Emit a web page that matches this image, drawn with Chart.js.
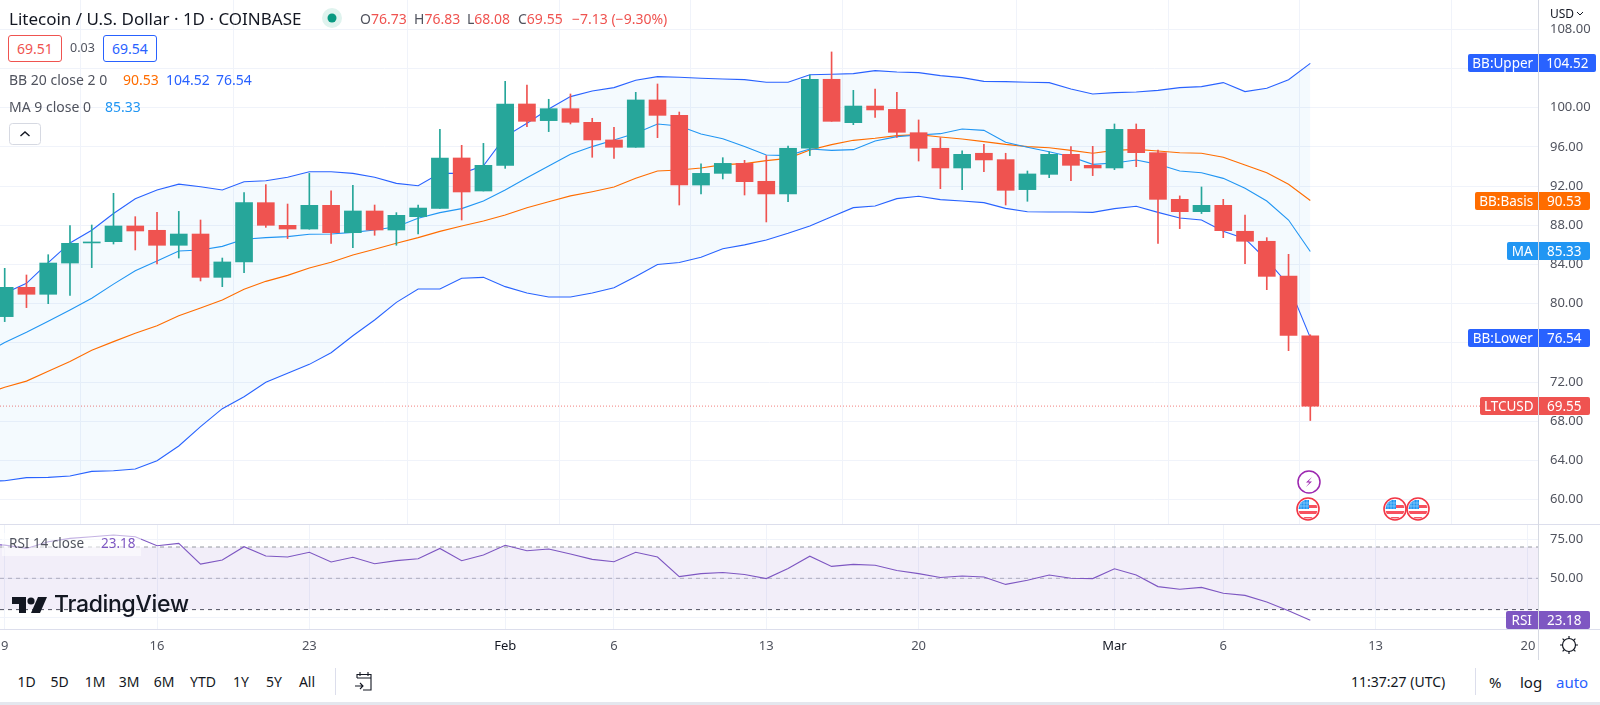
<!DOCTYPE html>
<html><head><meta charset="utf-8">
<script src="https://cdn.jsdelivr.net/npm/chart.js@4/dist/chart.umd.min.js"></script>
<style>
html,body{margin:0;padding:0;background:#fff;overflow:hidden;width:1600px;height:705px}
body{position:relative;font-family:"Noto Sans",sans-serif;color:#131722}
canvas{position:absolute;left:0}
.t{position:absolute;white-space:nowrap;transform:translateY(-50%);line-height:1;z-index:5}
.line{position:absolute;background:#dcdeec;z-index:4}
.box{position:absolute;box-sizing:border-box;border-radius:3px;border:1px solid;font-size:14px;display:flex;align-items:center;justify-content:center;z-index:5;background:#fff}
.badge{position:absolute;height:18px;line-height:18px;color:#fff;font-size:13.5px;z-index:6;border-radius:2px 0 0 2px;transform:translateY(-50%);text-align:center;white-space:nowrap}
svg{position:absolute;z-index:6;overflow:visible}
</style></head><body>
<canvas id="main" width="1600" height="524" style="top:0"></canvas>
<canvas id="osc" width="1600" height="136" style="top:524px"></canvas>

<div class="line" style="left:0;top:524px;width:1600px;height:1px"></div>
<div class="line" style="left:0;top:629px;width:1600px;height:1px"></div>
<div class="line" style="left:1538px;top:0;width:1px;height:660px;background:#d6d9e2"></div>
<div class="line" style="left:0;top:702px;width:1600px;height:3px;background:#e4e7ee"></div>

<span class="t" style="left:9px;top:18px;font-size:17px">Litecoin / U.S. Dollar · 1D · COINBASE</span>
<svg style="left:322px;top:8px" width="20" height="20"><circle cx="10" cy="10" r="10" fill="#dff3ee"/><circle cx="10" cy="10" r="4.5" fill="#089981"/></svg>
<span class="t" style="left:360px;top:19px;font-size:14px;color:#50535e">O<span style="color:#ef5350">76.73</span></span>
<span class="t" style="left:414px;top:19px;font-size:14px;color:#50535e">H<span style="color:#ef5350">76.83</span></span>
<span class="t" style="left:467px;top:19px;font-size:14px;color:#50535e">L<span style="color:#ef5350">68.08</span></span>
<span class="t" style="left:518px;top:19px;font-size:14px;color:#50535e">C<span style="color:#ef5350">69.55</span></span>
<span class="t" style="left:572px;top:19px;font-size:14px;color:#ef5350">−7.13 (−9.30%)</span>

<div class="box" style="left:8px;top:35px;width:54px;height:27px;border-color:#ef5350;color:#ef5350">69.51</div>
<span class="t" style="left:70px;top:48px;font-size:12.5px;color:#50535e">0.03</span>
<div class="box" style="left:103px;top:35px;width:54px;height:27px;border-color:#2962ff;color:#2962ff">69.54</div>

<span class="t" style="left:9px;top:80px;font-size:14px;color:#50535e">BB 20 close 2 0</span>
<span class="t" style="left:123px;top:80px;font-size:14px;color:#ff6d00">90.53</span>
<span class="t" style="left:166px;top:80px;font-size:14px;color:#2962ff">104.52</span>
<span class="t" style="left:216px;top:80px;font-size:14px;color:#2962ff">76.54</span>
<span class="t" style="left:9px;top:107px;font-size:14px;color:#50535e">MA 9 close 0</span>
<span class="t" style="left:105px;top:107px;font-size:14px;color:#2196f3">85.33</span>
<svg style="left:9px;top:123px" width="32" height="22"><rect x=".5" y=".5" width="31" height="21" rx="3" fill="#fff" stroke="#d6d9e2"/><path d="M11.5 13L16 9l4.5 4" fill="none" stroke="#131722" stroke-width="1.4"/></svg>

<span class="t" style="left:1550px;top:14px;font-size:12px">USD</span>
<svg style="left:1576px;top:11px" width="8" height="6"><path d="M1 1l3 3 3-3" fill="none" stroke="#131722"/></svg>

<div style="position:absolute;left:2px;top:533px;width:139px;height:23px;background:rgba(255,255,255,.55);z-index:4"></div>
<span class="t" style="left:9px;top:544px;font-size:13.5px;color:#50535e">RSI 14 close</span>
<span class="t" style="left:101px;top:544px;font-size:13.5px;color:#7e57c2">23.18</span>

<svg style="left:12px;top:596px" width="36" height="18"><path d="M0 1h14v16H7V8H0z" fill="#131722"/><circle cx="19" cy="5" r="3.6" fill="#131722"/><path d="M26 1h9l-7 16h-9z" fill="#131722"/></svg>
<span class="t" style="left:54px;top:604px;font-family:Inter;font-weight:500;font-size:23px;letter-spacing:-.3px;color:#131722">TradingView</span>

<svg style="left:1297px;top:470px" width="24" height="24"><circle cx="12" cy="12" r="11" fill="#fff" stroke="#9c27b0" stroke-width="1.5"/><path d="M15 7l-6 5.5h3.5l-3.5 4.5 6-5.500h-3.500z" fill="#9c27b0"/></svg>
<svg style="left:1296px;top:497px" width="24" height="24"><use href="#flag"/></svg>
<svg style="left:1383px;top:497px" width="24" height="24"><use href="#flag"/></svg>
<svg style="left:1405.500px;top:497px" width="24" height="24"><use href="#flag"/></svg>
<svg width="0" height="0" style="position:absolute"><defs><clipPath id="fc"><circle cx="12" cy="12" r="9.500"/></clipPath><g id="flag"><circle cx="12" cy="12" r="11" fill="#fff" stroke="#f23645" stroke-width="1.600"/><g clip-path="url(#fc)"><rect x="12" y="8" width="12" height="3" fill="#f7525f"/><rect y="14" width="24" height="3" fill="#f7525f"/><rect y="20" width="24" height="4" fill="#f7525f"/><rect x="2" y="3" width="11" height="9" fill="#2196f3"/><path d="M5 3v9M8 3v9M11 3v9M2 6h11M2 9h11" stroke="#bfe0fb" stroke-width=".5"/></g></g></defs></svg>

<svg style="left:1559px;top:635px" width="20" height="20"><circle cx="10" cy="10" r="6.5" fill="none" stroke="#131722" stroke-width="1.2"/><path d="M10 1v3M10 16v3M1 10h3M16 10h3M3.6 3.6l2 2M14.4 14.4l2 2M3.6 16.4l2-2M14.4 5.6l2-2" stroke="#131722" stroke-width="1.2"/></svg>

<span class="t tb" style="left:26.5px">1D</span><span class="t tb" style="left:59.5px">5D</span><span class="t tb" style="left:95px">1M</span><span class="t tb" style="left:129px">3M</span><span class="t tb" style="left:164px">6M</span><span class="t tb" style="left:203px">YTD</span><span class="t tb" style="left:241px">1Y</span><span class="t tb" style="left:274px">5Y</span><span class="t tb" style="left:307px">All</span>
<div class="line" style="left:335px;top:668px;width:1px;height:27px"></div>
<svg style="left:354px;top:671px" width="20" height="22"><path d="M3 7V3.5h14V19H9M3 7h14M6 1v4M14 1v4M1 15h8M6 12l3 3-3 3" fill="none" stroke="#131722" stroke-width="1.1"/></svg>
<span class="t" style="left:1351px;top:682px;font-size:14px">11:37:27 (UTC)</span>
<div class="line" style="left:1475px;top:668px;width:1px;height:27px"></div>
<span class="t" style="left:1489px;top:682px;font-size:15px">%</span>
<span class="t" style="left:1520px;top:682px;font-size:15px">log</span>
<span class="t" style="left:1556px;top:682px;font-size:15px;color:#2962ff">auto</span>
<style>.tb{top:682px;font-size:14px;transform:translate(-50%,-50%)}</style>

<script>
const dates = ["Jan 8","Jan 9","Jan 10","Jan 11","Jan 12","Jan 13","Jan 14","Jan 15","Jan 16","Jan 17","Jan 18","Jan 19","Jan 20","Jan 21","Jan 22","Jan 23","Jan 24","Jan 25","Jan 26","Jan 27","Jan 28","Jan 29","Jan 30","Jan 31",
"Feb 1","Feb 2","Feb 3","Feb 4","Feb 5","Feb 6","Feb 7","Feb 8","Feb 9","Feb 10","Feb 11","Feb 12","Feb 13","Feb 14","Feb 15","Feb 16","Feb 17","Feb 18","Feb 19","Feb 20","Feb 21","Feb 22","Feb 23","Feb 24","Feb 25","Feb 26","Feb 27","Feb 28",
"Mar 1","Mar 2","Mar 3","Mar 4","Mar 5","Mar 6","Mar 7","Mar 8","Mar 9","Mar 10","Mar 11","Mar 12","Mar 13","Mar 14","Mar 15","Mar 16","Mar 17","Mar 18","Mar 19","Mar 20"];
const tickDates = ["Jan 9","Jan 16","Jan 23","Feb 1","Feb 6","Feb 13","Feb 20","Mar 1","Mar 6","Mar 13","Mar 20"];
const tickLabels = ["9","16","23","Feb","6","13","20","Mar","6","13","20"];
const priceTicks = [60,64,68,72,76,80,84,88,92,96,100,104,108];
const rsiTicks = [25,50,75];

const opens = [null,78.68,81.67,80.96,84.15,86.20,86.33,87.93,87.49,85.96,87.11,
82.69,84.26,90.31,88.00,87.62,90.04,87.25,89.46,87.52,88.88,
89.73,94.87,91.50,94.12,100.38,98.68,99.90,98.51,96.71,95.96,
100.79,99.22,92.11,93.30,94.32,92.49,91.20,95.86,102.90,98.47,
100.17,99.83,97.45,95.86,93.85,95.35,94.70,91.64,93.20,95.24,
94.12,93.85,97.79,95.41,90.65,89.39,90.04,87.39,86.37,82.83,76.73];
const closes = [null,81.67,80.96,84.15,86.16,86.26,87.93,87.42,85.96,87.11,82.69,
84.26,90.31,88.00,87.62,90.04,87.25,89.46,87.52,89.02,89.76,
94.87,91.40,94.12,100.38,98.61,99.90,98.51,96.71,95.96,100.79,
99.22,92.11,93.30,94.32,92.45,91.20,95.86,102.90,98.61,100.17,
99.77,97.49,95.86,93.85,95.24,94.67,91.57,93.24,95.24,94.12,
93.85,97.79,95.41,90.65,89.39,90.04,87.45,86.37,82.79,76.77,69.55];
const highs = [null,83.61,82.93,85.00,87.96,88.03,91.26,88.88,89.32,89.42,88.54,
84.66,91.33,92.15,90.17,93.30,91.53,92.08,90.07,89.29,90.07,
97.79,96.16,96.36,102.69,102.32,100.86,101.40,98.92,98.00,101.57,
102.42,99.56,94.26,94.90,94.63,95.11,96.09,103.34,105.69,101.77,
101.91,101.57,98.75,96.94,95.60,96.26,95.35,93.54,95.50,96.03,
96.06,98.34,98.34,95.68,91.00,91.91,90.65,89.05,86.74,85.04,76.83];
const lows = [null,78.17,79.60,80.00,80.85,83.68,86.09,85.48,84.05,84.66,82.32,
81.74,83.17,87.79,86.64,87.60,86.16,85.72,86.98,85.96,87.11,
89.73,88.54,91.50,93.81,98.07,97.56,98.34,94.94,94.83,95.96,
96.94,90.07,91.20,92.73,91.09,88.34,90.40,95.11,98.61,98.27,
99.02,96.98,94.56,91.74,91.64,93.47,90.07,90.45,92.86,92.56,
93.07,93.68,93.98,86.16,87.66,89.20,86.74,84.09,81.43,75.21,68.08];
const bbUpper = [79.90,81.06,82.08,84.2,86.2,87.5,89.2,90.7,91.6,92.2,91.94,
91.6,92.45,92.55,92.9,93.47,93.47,93.3,92.9,92.28,92.04,
93.3,93.3,94.08,97.05,98.41,99.87,101.13,101.7,102.05,102.8,
103.17,103.1,103.0,102.93,102.86,102.59,102.59,103.37,103.41,103.48,
103.78,103.64,103.58,103.27,103.07,102.69,102.66,102.59,102.56,101.91,
101.4,101.54,101.6,101.77,102.05,102.15,102.56,101.64,101.98,102.86,104.52];
const bbLower = [61.84,61.94,62.25,62.28,62.42,62.89,62.96,63.13,63.98,65.48,67.45,
69.29,70.51,71.98,72.9,73.81,75.0,76.73,78.34,80.14,81.5,
81.5,82.6,82.69,81.74,81.1,80.68,80.68,81.1,81.62,82.77,
84.0,84.2,84.74,85.6,86.0,86.5,87.18,87.93,88.88,89.8,
89.97,90.72,90.96,90.62,90.48,90.31,89.73,89.39,89.36,89.36,
89.32,89.7,89.94,89.32,88.75,88.54,87.39,86.64,84.46,81.91,76.54];
const bbBasis = [70.7,71.47,72.1,73.1,74.1,75.24,76.13,76.98,77.76,78.78,79.56,
80.38,81.47,82.28,82.89,83.64,84.22,84.97,85.55,86.16,86.74,
87.38,87.93,88.44,89.05,89.8,90.4,91.0,91.43,91.91,92.8,
93.54,93.64,93.85,94.19,94.29,94.6,94.83,95.69,96.23,96.67,
96.88,97.15,97.25,97.01,96.81,96.54,96.26,96.03,95.92,95.65,
95.35,95.65,95.75,95.58,95.41,95.35,94.94,94.15,93.37,92.18,90.53];
const ma9 = [74.8,76.05,77.08,78.2,79.36,80.55,82.0,83.37,84.36,85.38,85.48,
85.85,86.57,86.74,86.84,87.08,87.11,87.28,87.52,87.86,88.71,
89.29,89.7,90.48,91.6,92.86,94.05,95.24,96.03,96.71,97.39,
98.34,98.13,97.32,96.84,96.03,95.18,95.11,95.79,95.65,95.72,
96.6,97.05,97.22,97.35,97.83,97.69,96.47,95.96,95.5,95.0,
94.22,94.36,94.67,94.22,93.54,93.37,92.79,91.77,90.48,88.54,85.33];
const rsi = [72.0,71.2,69.1,73.4,75.5,76.6,77.7,76.6,70.8,72.3,59.1,
61.7,70.2,64.2,63.6,66.6,60.4,63.4,59.3,61.3,62.5,
69.1,61.2,64.9,71.1,67.6,68.7,65.5,62.1,60.6,66.6,
63.6,51.1,53.0,53.7,52.4,49.8,56.3,64.1,57.6,58.9,
58.3,55.0,53.0,50.5,51.5,50.8,46.1,48.7,52.1,50.0,
49.8,56.1,52.1,44.7,43.0,44.2,40.4,39.1,34.8,29.3,23.18];
const lastPrice = 69.55, rsiHigh = 70, rsiMid = 50, rsiLow = 30;
const badges = [
 {t:"BB:Upper",v:104.52,c:"#2962ff",x:1468,e:1596},
 {t:"BB:Basis",v:90.53,c:"#ff6d00",x:1475,e:1590},
 {t:"MA",v:85.33,c:"#2196f3",x:1507,e:1590},
 {t:"BB:Lower",v:76.54,c:"#2962ff",x:1468,e:1590},
 {t:"LTCUSD",v:69.55,c:"#ef5350",x:1480,e:1590}
];

const UP="#26a69a", DOWN="#ef5350", GRID="#f0f3fa";
const XMIN=0.784, XMAX=71.51;
const pts = a => a.map((v,i)=>({x:i,y:v}));
const cndl = () => opens.map((d,i)=>i).filter(i=>opens[i]!=null);
const colors = () => cndl().map(i=>closes[i]>=opens[i]?UP:DOWN);
const lineDs = (label,data,color,order,extra) => Object.assign({type:'line',label,data:pts(data),borderColor:color,borderWidth:1.1,pointRadius:0,tension:0,order,fill:false},extra||{});
const flat = (label,v,color,dash,extra) => Object.assign({type:'line',label,data:[{x:XMIN,y:v},{x:XMAX,y:v}],borderColor:color,borderWidth:1,borderDash:dash,pointRadius:0,tension:0,fill:false,order:6},extra||{});
const xTicks = s => { s.ticks = tickDates.map(d=>({value:dates.indexOf(d)})); };
const noPad = s => { s.paddingTop=0; s.paddingBottom=0; s.paddingLeft=0; s.paddingRight=0; };
Chart.defaults.font.family='"Noto Sans",sans-serif';
Chart.defaults.animation=false;

const baseX = (labels) => ({type:'linear',offset:false,min:XMIN,max:XMAX,afterBuildTicks:xTicks,
  grid:{color:GRID,drawTicks:false},border:{display:false},
  ticks:labels?{autoSkip:false,maxRotation:0,padding:9,color:c=>{const l=tickLabels[tickDates.indexOf(dates[c.tick.value])];return (l==="Feb"||l==="Mar")?"#131722":"#50535e"},font:{size:13},callback:v=>tickLabels[tickDates.indexOf(dates[v])]}:{display:false}});
const fitX = h => s => { s.height=h; noPad(s); };
const fitY = s => { s.width=61; noPad(s); };

const main = new Chart(document.getElementById('main'),{
 type:'bar',
 data:{datasets:[
  lineDs('BB:Upper',bbUpper,'#2962ff',5,{fill:{target:1},backgroundColor:'rgba(33,150,243,0.05)'}),
  lineDs('BB:Lower',bbLower,'#2962ff',5),
  lineDs('BB:Basis',bbBasis,'#ff6d00',4),
  lineDs('MA',ma9,'#2196f3',3),
  flat('last',lastPrice,'rgba(239,83,80,.75)',[1,2]),
  {label:'wick',data:cndl().map(i=>({x:i,y:[lows[i],highs[i]]})),backgroundColor:colors(),barThickness:1,order:2},
  {label:'body',data:cndl().map(i=>({x:i,y:[opens[i],closes[i]]})),backgroundColor:colors(),barThickness:17,order:1,minBarLength:1}
 ]},
 options:{responsive:false,maintainAspectRatio:false,
  datasets:{bar:{grouped:false}},
  layout:{padding:0},
  plugins:{legend:{display:false},tooltip:{enabled:false}},
  scales:{
   x:Object.assign(baseX(false),{afterFit:fitX(0)}),
   y:{position:'right',min:57.52,max:110.99,afterBuildTicks:s=>{s.ticks=priceTicks.map(v=>({value:v}))},
      afterFit:fitY,grid:{color:GRID,drawTicks:false},border:{display:false},
      ticks:{padding:11,color:'#50535e',font:{size:13},callback:v=>v.toFixed(2)}}
  }}
});

const osc = new Chart(document.getElementById('osc'),{
 type:'line',
 data:{datasets:[
  flat('70',rsiHigh,'#9598a1',[4,4],{fill:{target:2},backgroundColor:'rgba(126,87,194,0.1)'}),
  flat('50',rsiMid,'#b2b5be',[4,4]),
  flat('30',rsiLow,'#50535e',[4,4]),
  lineDs('RSI',rsi,'#7e57c2',1)
 ]},
 options:{responsive:false,maintainAspectRatio:false,layout:{padding:0},
  plugins:{legend:{display:false},tooltip:{enabled:false}},
  scales:{
   x:Object.assign(baseX(true),{afterFit:fitX(31)}),
   y:{position:'right',min:17.6,max:84.7,afterBuildTicks:s=>{s.ticks=rsiTicks.map(v=>({value:v}))},
      afterFit:fitY,grid:{color:GRID,drawTicks:false},border:{display:false},
      ticks:{padding:11,color:'#50535e',font:{size:13},callback:v=>v.toFixed(2)}}
  }}
});

function addBadge(b,yPx){
 const l=document.createElement('div');l.className='badge';l.textContent=b.t;
 l.style.cssText=`left:${b.x}px;width:${1537.5-b.x}px;top:${yPx}px;background:${b.c}`;
 const v=document.createElement('div');v.className='badge';v.textContent=b.v.toFixed(2);
 v.style.cssText=`left:1538.5px;width:${b.e-1538.5}px;top:${yPx}px;background:${b.c};border-radius:0 2px 2px 0`;
 document.body.append(l,v);
}
badges.forEach(b=>addBadge(b,main.scales.y.getPixelForValue(b.v)));
addBadge({t:"RSI",v:23.18,c:"#7e57c2",x:1506,e:1590},524+osc.scales.y.getPixelForValue(23.18));
</script>
</body></html>
